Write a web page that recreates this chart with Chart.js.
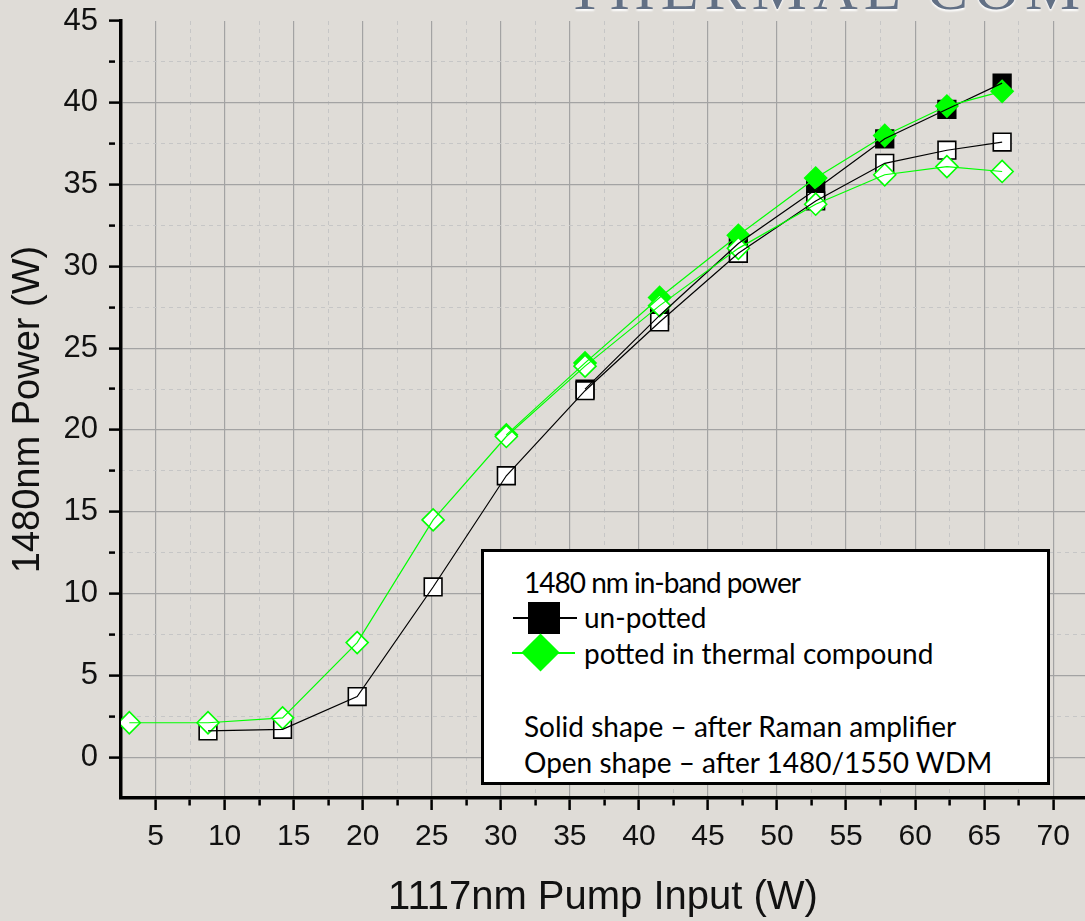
<!DOCTYPE html>
<html>
<head>
<meta charset="utf-8">
<title>1480nm power vs 1117nm pump input</title>
<script src="https://cdn.jsdelivr.net/npm/chart.js@4.4.1/dist/chart.umd.min.js"></script>
<style>
    html, body { margin: 0; padding: 0; width: 1085px; height: 921px; overflow: hidden; background: #dfdcd7; }
    #wrap { position: relative; width: 1085px; height: 921px; }
    #chart { position: absolute; left: 0; top: 0; }
    .slide-title {
        position: absolute; left: 566px; top: -43px;
        font-family: "Liberation Serif", "DejaVu Serif", serif; font-size: 62px; line-height: 1;
        letter-spacing: 6px; color: #627085; white-space: nowrap;
        text-shadow: 0 2px 2px #ffffff;
    }
    .legend-box {
        position: absolute; left: 481px; top: 549px; width: 569px; height: 236px;
        box-sizing: border-box; background: #ffffff; border: 3px solid #000;
        font-family: Lato, "Open Sans", sans-serif; font-size: 28px; color: #000;
    }
    .legend-box .row { position: absolute; line-height: 36px; white-space: nowrap; }
    .legend-box .ln { position: absolute; height: 2px; }
    .legend-box .sq { position: absolute; width: 32px; height: 32px; background: #000; }
    .legend-box .dm { position: absolute; width: 27px; height: 27px; background: #00ff00; transform: rotate(45deg); }
</style>
</head>
<body>
<div id="wrap">
    <canvas id="chart" width="1085" height="921"></canvas>
    <div class="slide-title">THERMAL COMPOUND</div>
    <div class="legend-box">
        <div class="row" style="left:40px; top:12px; letter-spacing:-1px;">1480 nm in-band power</div>
        <div class="ln" style="left:29px; top:65px; width:64px; background:#000;"></div>
        <div class="sq" style="left:44px; top:50px;"></div>
        <div class="row" style="left:100px; top:47px;">un-potted</div>
        <div class="ln" style="left:28px; top:100px; width:63px; background:#00ff00;"></div>
        <div class="dm" style="left:43px; top:87px;"></div>
        <div class="row" style="left:100px; top:83px;">potted in thermal compound</div>
        <div class="row" style="left:40px; top:156px;">Solid shape – after Raman amplifier</div>
        <div class="row" style="left:40px; top:192px;">Open shape – after 1480/1550 WDM</div>
    </div>
</div>
<script>
// --- Data ---
const pumpInput     = [3.1, 8.8, 14.2, 19.6, 25.1, 30.4, 36.1, 41.5, 47.2, 52.8, 57.8, 62.3, 66.3];
const unpottedRaman = [null, null, null, null, null, null, 22.5, 27.0, 31.4, 34.7, 37.8, 39.6, 41.2];
const pottedRaman   = [null, null, null, null, null, 19.7, 24.1, 28.1, 31.9, 35.4, 38.0, 39.8, 40.7];
const unpottedWdm   = [null, 1.6, 1.7, 3.7, 10.4, 17.2, 22.4, 26.6, 30.8, 34.0, 36.3, 37.1, 37.6];
const pottedWdm     = [2.1, 2.1, 2.4, 7.0, 14.5, 19.6, 23.9, 27.6, 31.1, 33.8, 35.6, 36.1, 35.8];

const xMajorTicks = [5, 10, 15, 20, 25, 30, 35, 40, 45, 50, 55, 60, 65, 70];
const xMinorTicks = [7.5, 12.5, 17.5, 22.5, 27.5, 32.5, 37.5, 42.5, 47.5, 52.5, 57.5, 62.5, 67.5];
const yMajorTicks = [0, 5, 10, 15, 20, 25, 30, 35, 40, 45];
const yMinorTicks = [2.5, 7.5, 12.5, 17.5, 22.5, 27.5, 32.5, 37.5, 42.5];

const GREEN = '#00ff00';
const xRange = { min: 2.5, max: 72.3 };
const yRange = { min: -2.5, max: 45 };

const toPoints = values => pumpInput
    .map((x, i) => ({ x: x, y: values[i] }))
    .filter(p => p.y !== null);

const isMajor = (ticks, ctx) => ctx.tick && ticks.includes(ctx.tick.value);

// keep the plot area exactly where the reference has it
const noScalePadding = s => { s.paddingLeft = 0; s.paddingRight = 0; s.paddingTop = 0; s.paddingBottom = 0; };

// marker-only datasets (bottom to top), then the connecting lines drawn over them
function markers(label, values, style, fill, stroke, radius, order) {
    return {
        label: label, data: toPoints(values), showLine: false,
        pointStyle: style, pointRadius: radius, pointHoverRadius: radius,
        pointBackgroundColor: fill, pointBorderColor: stroke, pointBorderWidth: 1.6,
        order: order
    };
}
function connector(label, values, color, order) {
    return {
        label: label, data: toPoints(values), showLine: true,
        borderColor: color, borderWidth: 1.2, pointRadius: 0, tension: 0,
        order: order
    };
}

const datasets = [
    markers('un-potted (Raman)', unpottedRaman, 'rect', '#000', '#000', 12.5, 8),
    markers('potted (Raman)', pottedRaman, 'rectRot', GREEN, GREEN, 11, 7),
    markers('un-potted (WDM)', unpottedWdm, 'rect', '#fff', '#000', 12.5, 6),
    markers('potted (WDM)', pottedWdm, 'rectRot', '#fff', GREEN, 11, 5),
    connector('un-potted (Raman) line', unpottedRaman, '#000', 4),
    connector('potted (Raman) line', pottedRaman, GREEN, 3),
    connector('un-potted (WDM) line', unpottedWdm, '#000', 2),
    connector('potted (WDM) line', pottedWdm, GREEN, 1)
];
datasets[3].clip = { left: 0, top: false, right: false, bottom: false };

const tickFont = { family: '"Liberation Sans", Arial, sans-serif', size: 30 };

new Chart(document.getElementById('chart'), {
    type: 'scatter',
    data: { datasets: datasets },
    options: {
        responsive: false,
        animation: false,
        devicePixelRatio: 1,
        layout: { autoPadding: false, padding: { top: 21, right: 0, bottom: 0, left: 0 } },
        plugins: { legend: { display: false }, tooltip: { enabled: false } },
        scales: {
            x: {
                type: 'linear', position: 'bottom', min: xRange.min, max: xRange.max,
                afterBuildTicks: s => { s.ticks = xMajorTicks.concat(xMinorTicks).sort((a, b) => a - b).map(v => ({ value: v })); },
                afterFit: s => { s.height = 123; noScalePadding(s); },
                ticks: {
                    autoSkip: false, maxRotation: 0, padding: 9, color: '#111', font: tickFont,
                    callback: v => xMajorTicks.includes(v) ? String(v) : ''
                },
                grid: {
                    color: ctx => isMajor(xMajorTicks, ctx) ? '#a3a3a3' : 'rgba(0,0,0,0)',
                    lineWidth: 1.2, tickLength: 12, tickColor: '#000', tickWidth: 2.5,
                    tickBorderDash: ctx => isMajor(xMajorTicks, ctx) ? [] : [6, 60]
                },
                border: { color: '#000', width: 3.5 },
                title: {
                    display: true, text: '1117nm Pump Input (W)', color: '#111',
                    font: { family: '"Liberation Sans", Arial, sans-serif', size: 40, lineHeight: 1.1 },
                    padding: { top: 0, bottom: 1 }
                }
            },
            xMinor: {
                type: 'linear', position: 'bottom', min: xRange.min, max: xRange.max,
                afterBuildTicks: s => { s.ticks = xMinorTicks.map(v => ({ value: v })); },
                afterFit: s => { s.height = 0; noScalePadding(s); },
                ticks: { display: false },
                grid: { color: '#c6c6c6', lineWidth: 1, drawTicks: false },
                border: { display: false, dash: [4, 4] }
            },
            y: {
                type: 'linear', position: 'left', min: yRange.min, max: yRange.max,
                afterBuildTicks: s => { s.ticks = yMajorTicks.concat(yMinorTicks).sort((a, b) => a - b).map(v => ({ value: v })); },
                afterFit: s => { s.width = 121; noScalePadding(s); },
                ticks: {
                    autoSkip: false, padding: 11, color: '#111', font: { family: tickFont.family, size: 31 },
                    callback: v => yMajorTicks.includes(v) ? String(v) : ''
                },
                grid: {
                    color: ctx => isMajor(yMajorTicks, ctx) && ctx.tick.value !== 45 ? '#a3a3a3' : 'rgba(0,0,0,0)',
                    lineWidth: 1.2, tickLength: 12, tickColor: '#000', tickWidth: 2.5,
                    tickBorderDash: ctx => isMajor(yMajorTicks, ctx) ? [] : [6, 60]
                },
                border: { color: '#000', width: 3.5 },
                title: {
                    display: true, text: '1480nm Power (W)', color: '#111',
                    font: { family: '"Liberation Sans", Arial, sans-serif', size: 38, lineHeight: 1.2 },
                    padding: { top: 6, bottom: 0 }
                }
            },
            yMinor: {
                type: 'linear', position: 'left', min: yRange.min, max: yRange.max,
                afterBuildTicks: s => { s.ticks = yMinorTicks.map(v => ({ value: v })); },
                afterFit: s => { s.width = 0; noScalePadding(s); },
                ticks: { display: false },
                grid: { color: '#c6c6c6', lineWidth: 1, drawTicks: false },
                border: { display: false, dash: [4, 4] }
            }
        }
    }
});
</script>
</body>
</html>
